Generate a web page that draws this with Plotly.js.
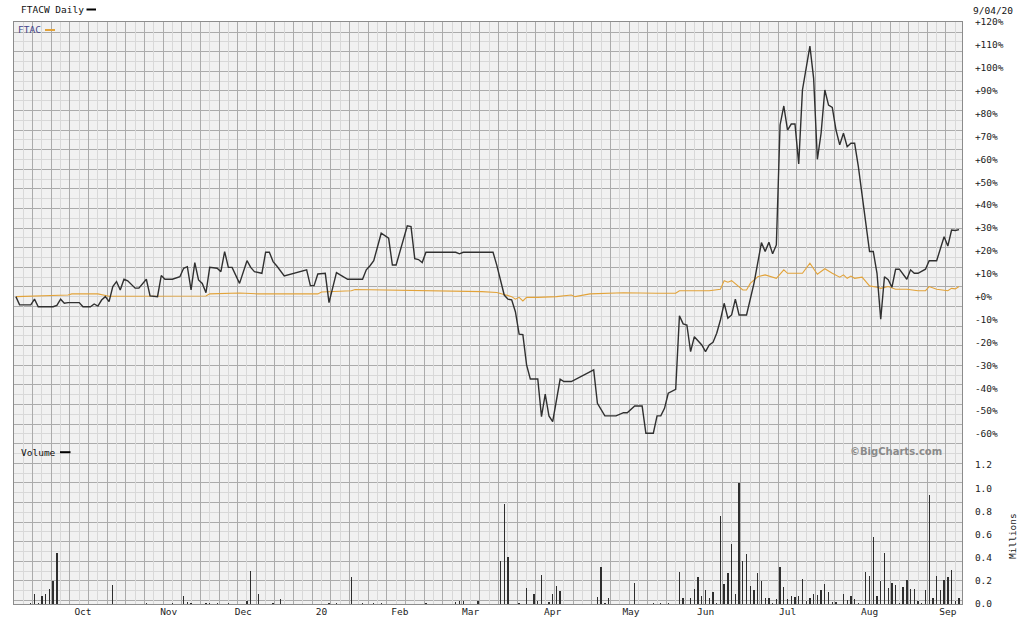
<!DOCTYPE html>
<html><head><meta charset="utf-8">
<script src="https://cdn.plot.ly/plotly-3.0.1.min.js"></script>
<style>html,body{margin:0;padding:0;background:#fff}#chart{width:1024px;height:622px}</style>
</head><body><div id="chart"></div>
<script>
// ---------- calendar (trading sessions) ----------
const firstSession = '2019-09-05';
const lastSession  = '2020-09-04';
const marketHolidays = ['2019-11-28','2019-12-25','2020-01-01','2020-01-20','2020-02-17','2020-04-10','2020-05-25','2020-07-03'];
const monthLabels = ['Oct','Nov','Dec','20','Feb','Mar','Apr','May','Jun','Jul','Aug','Sep'];

// ---------- FTACW daily, % change ----------
const ftacwDates = [
'2019-09-05','2019-09-06','2019-09-11','2019-09-12','2019-09-13','2019-09-19','2019-09-20','2019-09-23','2019-09-24','2019-09-25','2019-09-30',
'2019-10-01','2019-10-03','2019-10-04','2019-10-07','2019-10-08','2019-10-09','2019-10-10','2019-10-11','2019-10-14','2019-10-15','2019-10-16','2019-10-17','2019-10-21','2019-10-22','2019-10-24','2019-10-25','2019-10-29','2019-10-30','2019-10-31',
'2019-11-04','2019-11-06','2019-11-07','2019-11-08','2019-11-11','2019-11-12','2019-11-13','2019-11-14','2019-11-15','2019-11-18','2019-11-20','2019-11-21','2019-11-22','2019-11-25','2019-11-26','2019-11-29',
'2019-12-03','2019-12-04','2019-12-05','2019-12-09','2019-12-10','2019-12-11','2019-12-12','2019-12-13','2019-12-17','2019-12-26','2019-12-27','2019-12-30','2019-12-31',
'2020-01-03','2020-01-06','2020-01-08','2020-01-09','2020-01-13','2020-01-17','2020-01-21','2020-01-22','2020-01-23','2020-01-27','2020-01-29','2020-01-30','2020-01-31',
'2020-02-05','2020-02-06','2020-02-07','2020-02-10','2020-02-11','2020-02-12','2020-02-25','2020-02-26','2020-02-27',
'2020-03-10','2020-03-11','2020-03-12','2020-03-13','2020-03-16','2020-03-17','2020-03-18','2020-03-19','2020-03-20','2020-03-23','2020-03-24','2020-03-26','2020-03-27','2020-03-30','2020-03-31',
'2020-04-01','2020-04-03','2020-04-06','2020-04-08','2020-04-17','2020-04-20','2020-04-22','2020-04-27','2020-04-29','2020-04-30',
'2020-05-04','2020-05-06','2020-05-07','2020-05-11','2020-05-12','2020-05-13','2020-05-14','2020-05-15','2020-05-19','2020-05-20','2020-05-21','2020-05-22','2020-05-26','2020-05-27','2020-05-29',
'2020-06-01','2020-06-02','2020-06-03','2020-06-04','2020-06-05','2020-06-08','2020-06-09','2020-06-10','2020-06-11','2020-06-12','2020-06-16','2020-06-17','2020-06-18','2020-06-22','2020-06-23','2020-06-24','2020-06-25','2020-06-26','2020-06-29','2020-06-30',
'2020-07-01','2020-07-02','2020-07-06','2020-07-07','2020-07-08','2020-07-10','2020-07-13','2020-07-14','2020-07-15','2020-07-16','2020-07-17','2020-07-20','2020-07-21','2020-07-22','2020-07-23','2020-07-24','2020-07-27','2020-07-28','2020-07-29',
'2020-08-03','2020-08-04','2020-08-05','2020-08-06','2020-08-07','2020-08-10','2020-08-11','2020-08-12','2020-08-13','2020-08-17','2020-08-18','2020-08-19','2020-08-20','2020-08-24','2020-08-25','2020-08-27','2020-08-31',
'2020-09-01','2020-09-02','2020-09-03','2020-09-04'];
const ftacwPct = [
0,-3.6,-3.6,-1.1,-4.4,-4.4,-3.8,-1.1,-2.9,-2.6,-2.6,
-4.4,-4.4,-3.2,-4.1,-1.5,0,-2.2,4.4,6.6,2.9,7.6,6.9,3.7,3.7,7.6,0.3,0,9.2,7.6,
7.6,8.7,12.4,13.1,2.9,14.9,7.3,5.8,1.7,12.8,12.4,10.9,19.7,12.8,12.8,5.8,
15.7,12.8,10.9,10.2,19.4,19.4,15.3,13.4,9.0,11.7,4.8,4.8,9.9,
10.2,-2.6,10.5,9.5,7.6,7.6,11.7,13.5,15.7,27.7,25.5,13.8,13.8,
30.9,30.6,16.6,16.2,14.9,19.4,19.4,18.7,19.4,
19.4,13.8,6.6,0.7,-1.1,-1.4,-6.6,-16.4,-16.6,-29.8,-36,-36,-52.4,-42.6,-52.1,
-54.6,-36.1,-37.1,-37.1,-32,-46.6,-52.1,-52.1,-50.7,-50.7,
-47.8,-47.8,-59.7,-59.7,-52.1,-52.1,-48.8,-42.2,-40.5,-8.4,-11.9,-12.4,-24,-17.5,-21.1,
-24,-21.1,-20,-16,-10.2,-2.9,-9.4,-8,-1.1,-8,-8,-1.4,5.8,23.6,19.7,23.8,18.7,22.6,75,83.3,
72.8,75.4,75.4,58,90.3,109.5,95.4,60,71.4,90.3,83.7,82.7,72.8,66.3,71.4,65.5,67,67,56.8,
19.7,19.7,10.2,-9.9,8.7,7.4,4.1,12,12,7.6,11.7,10.2,10.2,12,15.7,15.7,26.2,
22.1,29.1,28.9,29.3];

// ---------- FTAC (comparison), % change ----------
const ftacDates = ['2019-09-05','2019-09-18','2019-09-25','2019-09-26','2019-10-07','2019-10-10','2019-10-25','2019-11-15','2019-11-18','2019-11-29',
'2019-12-06','2019-12-31','2020-01-02','2020-01-14','2020-01-15','2020-01-27','2020-02-07','2020-02-25','2020-03-05','2020-03-11',
'2020-03-13','2020-03-17','2020-03-18','2020-03-19','2020-03-20','2020-03-23','2020-03-26','2020-04-02','2020-04-08','2020-04-09',
'2020-04-16','2020-04-29','2020-05-12','2020-05-19','2020-05-20','2020-06-02','2020-06-05','2020-06-08','2020-06-09','2020-06-10',
'2020-06-15','2020-06-16','2020-06-17','2020-06-19','2020-06-23','2020-06-26','2020-06-30','2020-07-01','2020-07-08','2020-07-10',
'2020-07-14','2020-07-16','2020-07-20','2020-07-22','2020-07-23','2020-07-24','2020-07-27','2020-07-28','2020-07-30','2020-08-03',
'2020-08-05','2020-08-06','2020-08-10','2020-08-12','2020-08-17','2020-08-20','2020-08-24','2020-08-25','2020-08-27','2020-08-31',
'2020-09-01','2020-09-02','2020-09-03','2020-09-04'];
const ftacPct = [0,0.3,0.7,1.2,1.2,0.2,0.3,0.3,1.2,1.6,
1.2,1.2,2.0,2.6,3.1,2.9,2.9,2.6,2.2,1.8,
1.0,0,-1.1,-0.3,-1.9,-0.3,-0.3,0,0.7,0,
1.2,1.7,1.5,1.5,2.6,2.6,3.2,7.0,6.3,7.0,
2.9,2.9,5.8,8.7,9.5,8.0,11.7,10.2,10.2,14.6,
9.8,12.2,10.2,8.5,9.5,8.0,9.0,8.0,8.5,4.7,
4.1,3.6,4.4,3.2,3.2,2.6,2.6,4.4,3.2,2.6,
2.6,3.6,3.4,4.4];

// ---------- FTACW volume, millions ----------
const volDates = [
'2019-09-11','2019-09-12','2019-09-13','2019-09-16','2019-09-17','2019-09-18','2019-09-19','2019-09-20','2019-10-11','2019-10-24',
'2019-11-04','2019-11-07','2019-11-08','2019-11-11','2019-11-15','2019-11-18','2019-11-20','2019-11-25','2019-12-03','2019-12-04',
'2019-12-06','2019-12-12','2019-12-16','2020-01-06','2020-01-08','2020-01-14','2020-01-17','2020-01-23','2020-01-27','2020-02-12',
'2020-02-25','2020-02-26','2020-02-27','2020-03-04','2020-03-12','2020-03-13','2020-03-16','2020-03-19','2020-03-23','2020-03-25',
'2020-03-26','2020-03-27','2020-03-31','2020-04-01','2020-04-02','2020-04-03','2020-04-20','2020-04-21','2020-04-22','2020-04-23',
'2020-05-04','2020-05-11','2020-05-13','2020-05-15','2020-05-20','2020-05-21','2020-05-26','2020-05-27','2020-05-28','2020-05-29',
'2020-06-01','2020-06-02','2020-06-03','2020-06-04','2020-06-05','2020-06-08','2020-06-09','2020-06-10','2020-06-11','2020-06-12',
'2020-06-15','2020-06-16','2020-06-17','2020-06-18','2020-06-19','2020-06-22','2020-06-23','2020-06-24','2020-06-25','2020-06-26',
'2020-06-29','2020-06-30','2020-07-01','2020-07-02','2020-07-06','2020-07-07','2020-07-08','2020-07-09','2020-07-10','2020-07-13',
'2020-07-14','2020-07-15','2020-07-16','2020-07-17','2020-07-20','2020-07-21','2020-07-23','2020-07-24','2020-07-27','2020-07-28',
'2020-07-29','2020-07-31','2020-08-03','2020-08-04','2020-08-05','2020-08-06','2020-08-07','2020-08-10','2020-08-11','2020-08-12',
'2020-08-13','2020-08-14','2020-08-17','2020-08-18','2020-08-19','2020-08-20','2020-08-21','2020-08-24','2020-08-25','2020-08-26',
'2020-08-27','2020-08-28','2020-08-31','2020-09-01','2020-09-02','2020-09-03','2020-09-04'];
const volMillions = [
0.012,0.084,0.012,0.067,0.09,0.133,0.2,0.44,0.165,0.012,
0.012,0.067,0.015,0.01,0.01,0.01,0.01,0.01,0.026,0.287,
0.084,0.012,0.043,0.012,0.012,0.235,0.01,0.01,0.01,0.01,
0.02,0.03,0.03,0.03,0.368,0.867,0.409,0.012,0.142,0.084,
0.026,0.252,0.013,0.09,0.157,0.11,0.061,0.322,0.012,0.049,
0.183,0.01,0.01,0.01,0.278,0.049,0.055,0.128,0.235,0.067,
0.119,0.055,0.107,0.012,0.762,0.177,0.264,0.519,0.09,1.046,
0.374,0.432,0.157,0.119,0.27,0.2,0.049,0.049,0.012,0.04,
0.316,0.151,0.04,0.07,0.064,0.07,0.212,0.03,0.055,0.084,
0.078,0.119,0.177,0.1,0.017,0.017,0.09,0.037,0.07,0.04,
0.012,0.278,0.243,0.583,0.067,0.2,0.438,0.142,0.183,0.162,
0.012,0.151,0.209,0.133,0.128,0.03,0.012,0.125,0.945,0.055,
0.243,0.125,0.209,0.235,0.293,0.026,0.049];

// ---------- axis labels ----------
const priceTickVals = [120,110,100,90,80,70,60,50,40,30,20,10,0,-10,-20,-30,-40,-50,-60];
const priceTickText = ['+120%','+110%','+100%','+90%','+80%','+70%','+60%','+50%','+40%','+30%','+20%','+10%','+0%','-10%','-20%','-30%','-40%','-50%','-60%'];
const volTickVals = [0,0.2,0.4,0.6,0.8,1.0,1.2];
const volTickText = ['0.0','0.2','0.4','0.6','0.8','1.0','1.2'];

// ---------- session scale ----------
function buildSessions(){
  const out=[]; let t=Date.parse(firstSession+'T00:00:00Z'); const end=Date.parse(lastSession+'T00:00:00Z');
  while(t<=end){ const d=new Date(t); const wd=d.getUTCDay(); const s=d.toISOString().slice(0,10);
    if(wd!==0 && wd!==6 && marketHolidays.indexOf(s)<0) out.push(s);
    t+=86400000; }
  return out;
}
const sessions = buildSessions();
const sessionOf = {}; sessions.forEach((d,i)=>{sessionOf[d]=i;});
const toSession = arr => arr.map(d=>{ if(!(d in sessionOf)) console.error('not a session', d); return sessionOf[d]; });
const monthStarts = [];
for(let i=1;i<sessions.length;i++){ if(sessions[i].slice(5,7)!==sessions[i-1].slice(5,7)) monthStarts.push(i); }

const xRange = [-0.5, 253.8];
const monoFont = 'DejaVu Sans Mono, Liberation Mono, monospace';
const fs = 9.5;

const traces = [
  {x:[0], y:[0], xaxis:'x', yaxis:'y', type:'scatter', mode:'markers', marker:{opacity:0}, hoverinfo:'skip', showlegend:false},
  {x:toSession(ftacDates), y:ftacPct, xaxis:'x', yaxis:'y2', type:'scatter', mode:'lines',
   line:{color:'#e2a33a', width:1.1}, name:'FTAC', hoverinfo:'skip'},
  {x:toSession(ftacwDates), y:ftacwPct, xaxis:'x', yaxis:'y2', type:'scatter', mode:'lines',
   line:{color:'#303030', width:1.4}, name:'FTACW', hoverinfo:'skip'},
  {x:toSession(volDates), y:volMillions, xaxis:'x', yaxis:'y3', type:'bar', width:0.36,
   marker:{color:'#2e2e2e', line:{width:0}}, name:'Volume', hoverinfo:'skip'},
  {x:[0], y:[0], xaxis:'x2', yaxis:'y3', type:'scatter', mode:'markers', marker:{opacity:0}, hoverinfo:'skip', showlegend:false}
];

const px = v => (v-14)/948;          // page x -> paper
const py = v => (604-v)/582;          // page y -> paper

const layout = {
  width:1024, height:622,
  margin:{l:14, r:62, t:22, b:18, pad:0},
  paper_bgcolor:'#ffffff', plot_bgcolor:'rgba(0,0,0,0)',
  showlegend:false, bargap:0,
  font:{family:monoFont, size:fs, color:'#222'},
  xaxis:{range:xRange, anchor:'y', tickmode:'linear', tick0:-0.5, dtick:5, showticklabels:false, ticks:'',
         showgrid:true, gridcolor:'#ababab', gridwidth:1,
         minor:{tickmode:'linear', tick0:2, dtick:5, showgrid:true, gridcolor:'#d8d8d8', gridwidth:1, ticks:''},
         zeroline:false, showline:true, mirror:true, linecolor:'#8c8c8c', linewidth:1, fixedrange:true},
  xaxis2:{overlaying:'x', anchor:'y3', side:'bottom', range:xRange, tickmode:'array', tickvals:monthStarts, ticktext:monthLabels,
          showgrid:false, zeroline:false, showline:false, ticks:'', tickfont:{family:monoFont, size:fs, color:'#222'}, fixedrange:true},
  yaxis:{domain:[0,1], range:[0,582], anchor:'x', tickmode:'linear', tick0:3.5, dtick:19.6, showticklabels:false, ticks:'',
         showgrid:true, gridcolor:'#ababab', gridwidth:1,
         minor:{tickmode:'linear', tick0:13.3, dtick:19.6, showgrid:true, gridcolor:'#d8d8d8', gridwidth:1, ticks:''},
         zeroline:false, showline:true, mirror:true, linecolor:'#8c8c8c', linewidth:1, fixedrange:true},
  yaxis2:{domain:[0.2784,1], range:[-63.5,120], anchor:'x', side:'right', tickmode:'array', tickvals:priceTickVals, ticktext:priceTickText,
          showgrid:false, zeroline:false, showline:false, ticks:'outside', ticklen:10, tickcolor:'rgba(0,0,0,0)',
          tickfont:{family:monoFont, size:fs, color:'#222'}, fixedrange:true},
  yaxis3:{domain:[0,0.2784], range:[0,1.4], anchor:'x', side:'right', tickmode:'array', tickvals:volTickVals, ticktext:volTickText,
          showgrid:false, zeroline:false, showline:false, ticks:'outside', ticklen:10, tickcolor:'rgba(0,0,0,0)',
          tickfont:{family:monoFont, size:fs, color:'#222'}, fixedrange:true},
  shapes:[
    {type:'rect', xref:'paper', yref:'paper', x0:0, x1:1, y0:0, y1:1, fillcolor:'#f1f1f1', line:{width:0}, layer:'below'},
    {type:'rect', xref:'paper', yref:'paper', x0:px(86.5), x1:px(96), y0:py(10.5), y1:py(8.5), fillcolor:'#000', line:{width:0}},
    {type:'rect', xref:'paper', yref:'paper', x0:px(45), x1:px(55), y0:py(31), y1:py(29), fillcolor:'#e2a33a', line:{width:0}},
    {type:'rect', xref:'paper', yref:'paper', x0:px(60), x1:px(70.5), y0:py(453.2), y1:py(451.2), fillcolor:'#000', line:{width:0}}
  ],
  annotations:[
    {text:'FTACW Daily', xref:'paper', yref:'paper', x:px(18.5), y:py(9.7), xanchor:'left', yanchor:'middle', showarrow:false,
     font:{family:monoFont, size:fs, color:'#111'}},
    {text:'9/04/20', xref:'paper', yref:'paper', x:px(971), y:py(10.5), xanchor:'left', yanchor:'middle', showarrow:false,
     font:{family:monoFont, size:fs, color:'#111'}},
    {text:'FTAC', xref:'paper', yref:'paper', x:px(15.5), y:py(30), xanchor:'left', yanchor:'middle', showarrow:false,
     font:{family:monoFont, size:fs, color:'#45458a'}},
    {text:'Volume', xref:'paper', yref:'paper', x:px(18.5), y:py(452), xanchor:'left', yanchor:'middle', showarrow:false,
     font:{family:monoFont, size:fs, color:'#111'}},
    {text:'©BigCharts.com', xref:'paper', yref:'paper', x:px(944), y:py(451.8), xanchor:'right', yanchor:'middle', showarrow:false,
     font:{family:'DejaVu Sans, Verdana, sans-serif', size:10, color:'#8a8a8a', weight:'bold'}},
    {text:'Millions', xref:'paper', yref:'paper', x:px(1012), y:py(536), xanchor:'center', yanchor:'middle', textangle:-90, showarrow:false,
     font:{family:monoFont, size:fs, color:'#222'}}
  ]
};

Plotly.newPlot('chart', traces, layout, {staticPlot:true, displayModeBar:false});
</script>
</body></html>
